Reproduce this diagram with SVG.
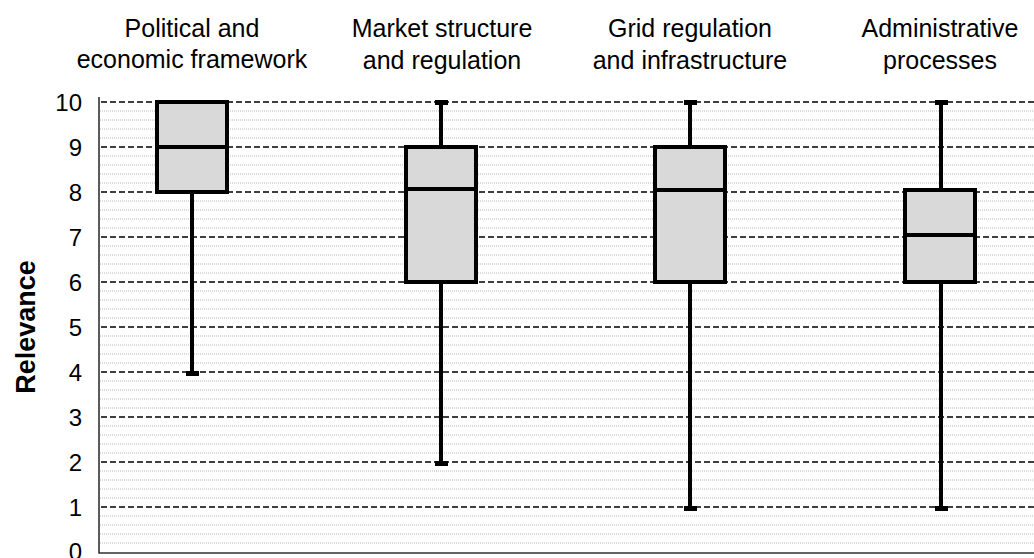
<svg xmlns="http://www.w3.org/2000/svg" width="1034" height="558" viewBox="0 0 1034 558">
<style>
.minor{stroke:#b8b8b8;stroke-width:1;stroke-dasharray:1 1;fill:none}
.major{stroke:#000;stroke-width:1.4;stroke-dasharray:6 3;fill:none}
.axis{stroke:#333;stroke-width:1.6;fill:none}
.box{fill:#d9d9d9;stroke:#000;stroke-width:4}
.med{stroke:#000;stroke-width:4}
.wh{stroke:#000;stroke-width:4}
.cap{fill:#000}
.tick{font-family:"Liberation Sans",Arial,sans-serif;font-size:24px;fill:#000;text-anchor:end}
.cat{font-family:"Liberation Sans",Arial,sans-serif;font-size:25px;fill:#000;text-anchor:middle}
.ttl{font-family:"Liberation Sans",Arial,sans-serif;font-size:27px;font-weight:bold;fill:#000;text-anchor:middle}
</style>
<rect width="1034" height="558" fill="#fff"/>
<g id="grid">
<path class="minor" d="M100 543H1034M100 534H1034M100 525H1034M100 516H1034M100 498H1034M100 489H1034M100 480H1034M100 471H1034M100 453H1034M100 444H1034M100 435H1034M100 426H1034M100 408H1034M100 399H1034M100 390H1034M100 381H1034M100 363H1034M100 354H1034M100 345H1034M100 336H1034M100 318H1034M100 309H1034M100 300H1034M100 291H1034M100 273H1034M100 264H1034M100 255H1034M100 246H1034M100 228H1034M100 219H1034M100 210H1034M100 201H1034M100 183H1034M100 174H1034M100 165H1034M100 156H1034M100 138H1034M100 129H1034M100 120H1034M100 111H1034"/>
<path class="major" d="M101 102H1034M101 147H1034M101 192H1034M101 237H1034M101 282H1034M101 327H1034M101 372H1034M101 417H1034M101 462H1034M101 507H1034"/>
</g>
<g id="axes">
<path class="axis" d="M99 97V553H1034"/>
<text class="tick" x="82" y="111">10</text>
<text class="tick" x="82" y="156">9</text>
<text class="tick" x="82" y="201">8</text>
<text class="tick" x="82" y="246">7</text>
<text class="tick" x="82" y="291">6</text>
<text class="tick" x="82" y="336">5</text>
<text class="tick" x="82" y="381">4</text>
<text class="tick" x="82" y="426">3</text>
<text class="tick" x="82" y="471">2</text>
<text class="tick" x="82" y="516">1</text>
<text class="tick" x="82" y="560">0</text>
<text class="ttl" transform="translate(35 327) rotate(-90)">Relevance</text>
</g>
<g id="box-political">
<line class="wh" x1="192" y1="192" x2="192" y2="373"/>
<rect class="cap" x="186" y="371" width="13" height="5"/>
<rect class="box" x="157" y="102" width="70" height="90"/>
<line class="med" x1="157" y1="147" x2="227" y2="147"/>
<text class="cat" x="192" y="37">Political and</text>
<text class="cat" x="192" y="68">economic framework</text>
</g>
<g id="box-market">
<line class="wh" x1="441" y1="101" x2="441" y2="463"/>
<rect class="cap" x="435" y="100" width="13" height="5"/>
<rect class="cap" x="435" y="461" width="13" height="5"/>
<rect class="box" x="406" y="147" width="70" height="135"/>
<line class="med" x1="406" y1="189" x2="476" y2="189"/>
<text class="cat" x="442" y="37">Market structure</text>
<text class="cat" x="442" y="69">and regulation</text>
</g>
<g id="box-grid">
<line class="wh" x1="690" y1="101" x2="690" y2="508"/>
<rect class="cap" x="684" y="100" width="13" height="5"/>
<rect class="cap" x="684" y="506" width="13" height="5"/>
<rect class="box" x="655" y="147" width="70" height="135"/>
<line class="med" x1="655" y1="190" x2="725" y2="190"/>
<text class="cat" x="690" y="37">Grid regulation</text>
<text class="cat" x="690" y="69">and infrastructure</text>
</g>
<g id="box-admin">
<line class="wh" x1="941" y1="101" x2="941" y2="508"/>
<rect class="cap" x="935" y="100" width="13" height="5"/>
<rect class="cap" x="935" y="506" width="13" height="5"/>
<rect class="box" x="905" y="190" width="70" height="92"/>
<line class="med" x1="905" y1="235" x2="975" y2="235"/>
<text class="cat" x="940" y="37">Administrative</text>
<text class="cat" x="940" y="69">processes</text>
</g>
</svg>
